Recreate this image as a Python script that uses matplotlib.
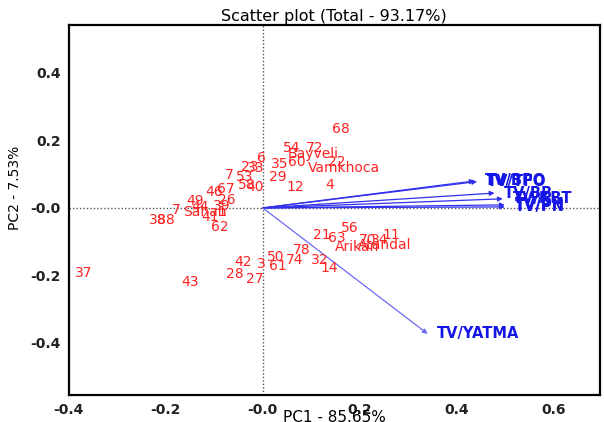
import matplotlib
matplotlib.use("Agg")
import matplotlib.pyplot as plt

# Observation scores (PC1, PC2) with labels
obs_labels = ["68", "54", "72", "Bayveli", "6", "35", "60", "22", "Vamkhoca",
              "23", "33", "29", "12", "4", "7", "53", "58", "40", "46", "67",
              "26", "49", "44", "39", "7", "Sahan", "38", "88", "41", "1", "62",
              "56", "21", "63", "11", "Arikan", "Atandal", "70", "34", "78",
              "74", "32", "14", "50", "61", "3", "42", "28", "27", "43", "37"]
obs_pc1 = [0.161, 0.060, 0.107, 0.103, -0.002, 0.035, 0.070, 0.153, 0.167,
           -0.027, -0.014, 0.031, 0.066, 0.138, -0.070, -0.037, -0.033, -0.016, -0.101, -0.076,
           -0.074, -0.140, -0.130, -0.085, -0.179, -0.120, -0.216, -0.200, -0.109, -0.085, -0.089,
           0.179, 0.122, 0.153, 0.266, 0.194, 0.252, 0.216, 0.241, 0.080,
           0.066, 0.118, 0.138, 0.027, 0.031, -0.004, -0.041, -0.058, -0.016, -0.151, -0.369]
obs_pc2 = [0.234, 0.178, 0.178, 0.160, 0.148, 0.130, 0.136, 0.136, 0.119,
           0.121, 0.119, 0.092, 0.062, 0.068, 0.098, 0.092, 0.068, 0.062, 0.047, 0.056,
           0.024, 0.021, 0.003, 0.006, -0.006, -0.012, -0.036, -0.036, -0.027, -0.012, -0.056,
           -0.059, -0.080, -0.089, -0.080, -0.116, -0.110, -0.095, -0.095, -0.124,
           -0.154, -0.154, -0.178, -0.145, -0.172, -0.166, -0.160, -0.196, -0.210, -0.219, -0.193]

# Variable loadings (arrows)
var_labels = ["TV/BPO", "TV/TFO", "TV/BB", "TV/KBT", "TV/PH", "TV/PN", "TV/YATMA"]
var_pc1 = [0.437, 0.442, 0.478, 0.495, 0.499, 0.499, 0.340]
var_pc2 = [0.080, 0.078, 0.044, 0.027, 0.009, 0.003, -0.373]

xticks = [-0.4, -0.2, 0.0, 0.2, 0.4, 0.6]
xticklabels = ["-0.4", "-0.2", "-0.0", "0.2", "0.4", "0.6"]
yticks = [-0.4, -0.2, 0.0, 0.2, 0.4]
yticklabels = ["-0.4", "-0.2", "-0.0", "0.2", "0.4"]

fig = plt.figure(figsize=(6.04, 4.22), dpi=100)
ax = fig.add_axes([0.114, 0.064, 0.879, 0.877])
ax.set_xlim(-0.4, 0.695)
ax.set_ylim(-0.554, 0.542)

ax.axvline(0, color="#555555", ls=(0, (1, 1.5)), lw=1.0, zorder=1)
ax.axhline(0, color="#555555", ls=(0, (1, 1.5)), lw=1.0, zorder=1)

for lab, x, y in zip(obs_labels, obs_pc1, obs_pc2):
    ax.text(x, y, lab, color="#ff2222", fontsize=10, ha="center", va="center", zorder=3)

for lab, x, y in zip(var_labels, var_pc1, var_pc2):
    lc = "#6a6af5" if lab == "TV/YATMA" else "#3030ee"
    ax.annotate("", xy=(x, y), xytext=(0, 0),
                arrowprops=dict(arrowstyle="-|>", color=lc, lw=0.9,
                                mutation_scale=7, shrinkA=0, shrinkB=0), zorder=2)
    ax.text(x + 0.02, y, lab, color="#1515e6", fontsize=10.5, fontweight="bold",
            ha="left", va="center", zorder=3)

for s in ax.spines.values():
    s.set_linewidth(1.6)
    s.set_color("black")

ax.set_xticks(xticks)
ax.set_xticklabels(xticklabels)
ax.set_yticks(yticks)
ax.set_yticklabels(yticklabels)
ax.tick_params(length=0, pad=6, labelsize=10, labelcolor="#222222")
for t in ax.get_xticklabels() + ax.get_yticklabels():
    t.set_fontweight("bold")

ax.set_title("Scatter plot (Total - 93.17%)", fontsize=11.5, pad=3)
ax.set_xlabel("PC1 - 85.65%", fontsize=11)
ax.xaxis.set_label_coords(0.5, -0.04)
ax.set_ylabel("PC2 - 7.53%", fontsize=10)
ax.yaxis.set_label_coords(-0.088, 0.56)

fig.savefig("out.png", dpi=100)
